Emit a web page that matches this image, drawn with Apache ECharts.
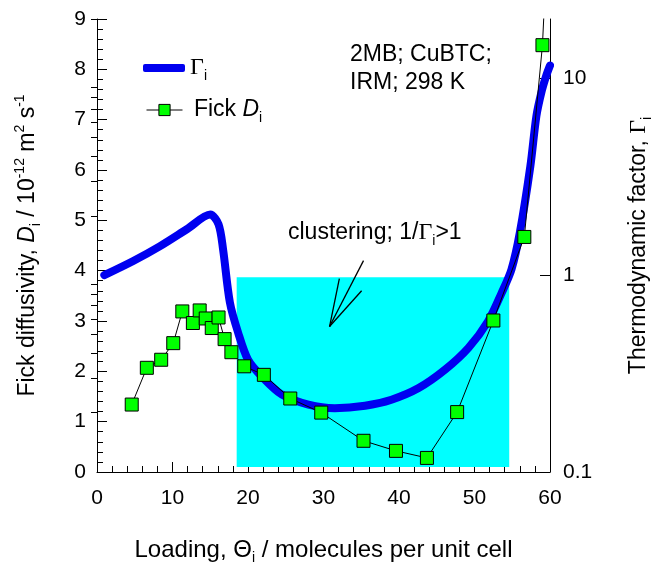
<!DOCTYPE html>
<html><head><meta charset="utf-8">
<script src="https://cdn.jsdelivr.net/npm/echarts@6/dist/echarts.min.js"></script>
<style>html,body{margin:0;padding:0;background:#fff}#c{width:655px;height:569px}</style>
</head><body><div id="c"></div>
<script>
// ---- data ----
const fickX = [4.6, 6.6, 8.5, 10.1, 11.3, 12.7, 13.6, 14.4, 15.2, 16.1, 16.9, 17.8, 19.5, 22.1, 25.6, 29.7, 35.3, 39.6, 43.7, 47.7, 52.5, 56.6, 59.0, 59.8];
const fickD = [1.34, 2.07, 2.23, 2.56, 3.19, 2.96, 3.21, 3.05, 2.86, 3.07, 2.64, 2.38, 2.10, 1.93, 1.46, 1.18, 0.62, 0.42, 0.28, 1.19, 3.01, 4.67, 8.48, 11.0];
const gammaX = [0.97, 4.8, 8.3, 11.9, 15.0, 16.1, 16.7, 17.6, 18.7, 20.0, 21.8, 24.5, 28.0, 31.5, 35.5, 39.0, 42.6, 46.1, 49.2, 51.8, 53.6, 54.9, 56.0, 57.4, 58.2, 58.9, 59.5, 60.0];
const gammaF = [1.00, 1.18, 1.40, 1.71, 2.03, 1.81, 1.35, 0.727, 0.509, 0.372, 0.306, 0.247, 0.220, 0.211, 0.217, 0.233, 0.267, 0.331, 0.427, 0.583, 0.813, 1.07, 1.64, 3.58, 6.43, 8.6, 10.3, 11.6];
const clusterX = [18.5, 54.6];
const clusterY = [0.1, 3.87];
const arrowTip = [30.8, 2.89];
const arrowTails = [[35.3, 4.20], [32.1, 3.84], [35.05, 3.60]];
const rightMajor = [0.1, 1, 10];
const rightMinor = [0.2, 0.3, 0.4, 0.5, 0.6, 0.7, 0.8, 0.9, 2, 3, 4, 5, 6, 7, 8, 9, 20];

const F = '"Liberation Sans", Arial, sans-serif';
const S = '"Liberation Serif", "Times New Roman", serif';
const rich = {
  it: {fontSize: 23, fontFamily: F, fontStyle: 'italic', color: '#000', lineHeight: 30},
  g: {fontSize: 24, fontFamily: S, color: '#000', lineHeight: 30},
  sub: {fontSize: 14, fontFamily: F, color: '#000', verticalAlign: 'bottom', lineHeight: 14},
  sup: {fontSize: 14, fontFamily: F, color: '#000', verticalAlign: 'top', lineHeight: 14}
};
const nameStyle = {fontSize: 23, fontFamily: F, color: '#000', lineHeight: 30, rich: rich};
const labelStyle = {fontSize: 21, fontFamily: F, color: '#000'};

const chart = echarts.init(document.getElementById('c'), null, {renderer: 'canvas'});
const zip = (a, b) => a.map((v, i) => [v, b[i]]);

const rightAxisBase = {
  type: 'log', logBase: 10, min: 0.1, max: 20, position: 'right',
  splitLine: {show: false}, minorTick: {show: false}
};

const series = [
  {
    name: 'cluster', type: 'line', data: [], yAxisIndex: 0, z: 1, silent: true,
    markArea: {silent: true, itemStyle: {color: '#00ffff', opacity: 1},
      data: [[{xAxis: clusterX[0], yAxis: clusterY[0]}, {xAxis: clusterX[1], yAxis: clusterY[1]}]]}
  },
  {
    name: 'Γi', type: 'line', yAxisIndex: 1, z: 2, symbol: 'none', smooth: 0.3,
    data: zip(gammaX, gammaF), clip: true,
    lineStyle: {color: '#0000f0', width: 8, cap: 'round', join: 'round'},
    itemStyle: {color: '#0000f0'}
  },
  {
    name: 'Fick Di', type: 'line', yAxisIndex: 0, z: 3, symbol: 'rect', symbolSize: 13, clip: true,
    data: zip(fickX, fickD),
    lineStyle: {color: '#000', width: 1},
    itemStyle: {color: '#00ff00', borderColor: '#000', borderWidth: 1}
  }
];
arrowTails.forEach((t, i) => series.push({
  name: 'arrow' + i, type: 'line', yAxisIndex: 0, z: 4, symbol: 'none', silent: true,
  data: [t, arrowTip], lineStyle: {color: '#000', width: 1.3}
}));

chart.setOption({
  animation: false,
  backgroundColor: '#fff',
  grid: {left: 97, right: 105, top: 19, bottom: 97, containLabel: false, outerBoundsMode: 'none'},
  legend: [
    {data: [{name: 'Γi', icon: 'roundRect'}], left: 138, top: 48, orient: 'vertical', itemWidth: 42, itemHeight: 8,
     itemStyle: {color: '#0000f0', borderWidth: 0},
     formatter: () => '{g|Γ}{sub|i}',
     textStyle: {fontSize: 23, fontFamily: F, color: '#000', lineHeight: 30, rich: rich}},
    {data: ['Fick Di'], left: 141, top: 90, orient: 'vertical', itemWidth: 36, itemHeight: 14,
     lineStyle: {width: 1, color: '#000'},
     itemStyle: {color: '#00ff00', borderColor: '#000', borderWidth: 1},
     formatter: () => ' Fick {it|D}{sub|i}',
     textStyle: {fontSize: 23, fontFamily: F, color: '#000', lineHeight: 30, rich: rich}}
  ],
  xAxis: {
    type: 'value', min: 0, max: 60, interval: 10,
    name: 'Loading, Θ{sub|i} / molecules per unit cell', nameLocation: 'middle', nameGap: 63,
    nameTextStyle: Object.assign({}, nameStyle, {fontSize: 24}),
    axisLine: {show: true, onZero: false, lineStyle: {color: '#000', width: 1}},
    axisTick: {show: true, inside: true, length: 10, lineStyle: {color: '#000'}},
    minorTick: {show: true, splitNumber: 5, length: 6, lineStyle: {color: '#000'}},
    axisLabel: Object.assign({margin: 16}, labelStyle),
    splitLine: {show: false}, minorSplitLine: {show: false}
  },
  yAxis: [
    {
      type: 'value', min: 0, max: 9, interval: 1, position: 'left',
      name: 'Fick diffusivity, {it|D}{sub|i} / 10{sup|-12} m{sup|2} s{sup|-1}', nameLocation: 'middle', nameGap: 54,
      nameTextStyle: nameStyle,
      axisLine: {show: true, onZero: false, lineStyle: {color: '#000', width: 1}},
      axisTick: {show: true, inside: true, length: 10, lineStyle: {color: '#000'}},
      minorTick: {show: true, splitNumber: 5, length: 6, lineStyle: {color: '#000'}},
      axisLabel: Object.assign({margin: 11}, labelStyle),
      splitLine: {show: false}, minorSplitLine: {show: false}
    },
    Object.assign({}, rightAxisBase, {
      name: 'Thermodynamic factor, {g|Γ}{sub|i}', nameLocation: 'middle', nameGap: 74,
      nameTextStyle: nameStyle,
      axisLine: {show: true, onZero: false, lineStyle: {color: '#000', width: 1}},
      axisTick: {show: true, inside: true, length: 10, customValues: rightMajor, lineStyle: {color: '#000'}},
      axisLabel: Object.assign({margin: 13, customValues: rightMajor, formatter: v => String(v)}, labelStyle)
    }),
    Object.assign({}, rightAxisBase, {
      axisLine: {show: false},
      axisTick: {show: true, inside: true, length: 6, customValues: rightMinor, lineStyle: {color: '#000'}},
      axisLabel: {show: false}
    })
  ],
  graphic: [
    {type: 'text', left: 350, top: 41, z: 10,
     style: {text: '2MB; CuBTC;\nIRM; 298 K', font: '23px ' + F, fill: '#000', lineHeight: 28}},
    {type: 'text', left: 288, top: 218, z: 10,
     style: {text: 'clustering; 1/{g|Γ}{sub|i}>1', fontSize: 23, fontFamily: F, fill: '#000', lineHeight: 30, rich: rich}}
  ],
  series: series
});
</script>
</body></html>
